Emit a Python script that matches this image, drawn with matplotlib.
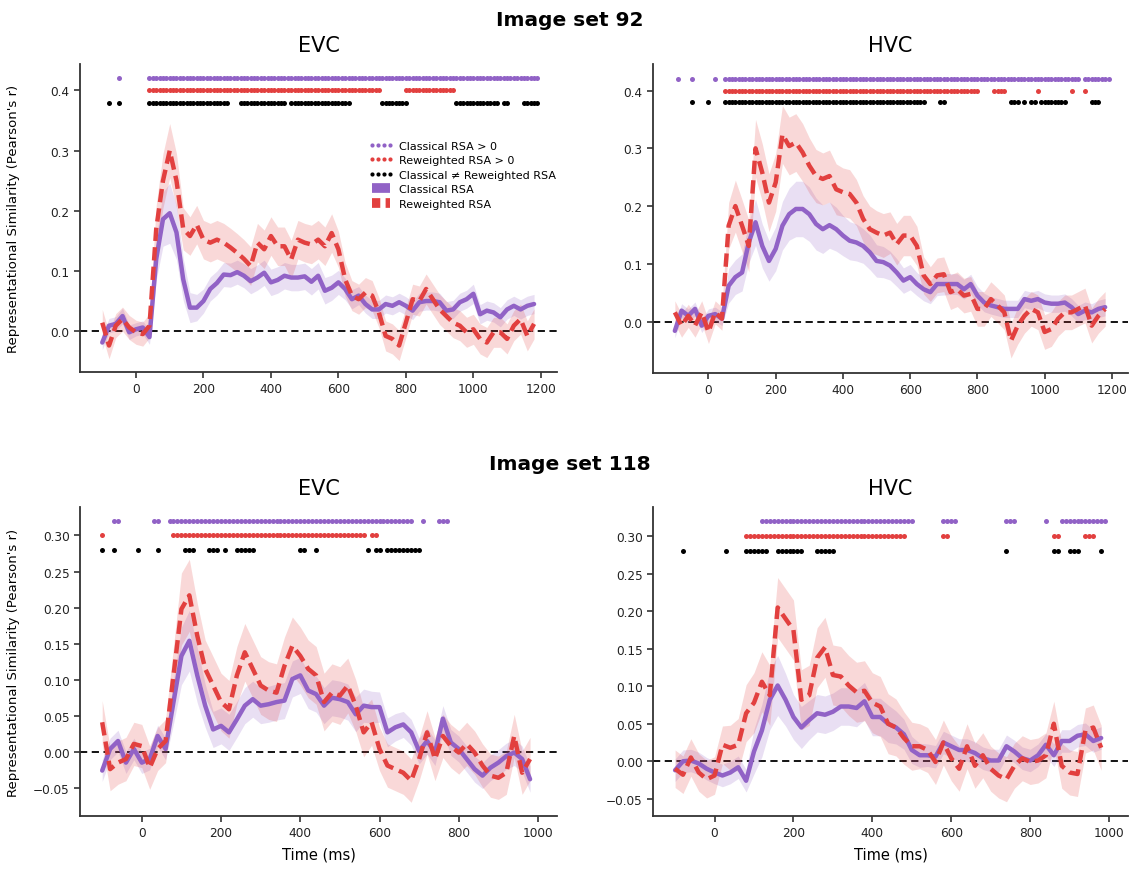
import numpy as np
import matplotlib
matplotlib.use('Agg')
import matplotlib.pyplot as plt
from matplotlib.lines import Line2D

PURPLE = '#9162c6'
RED = '#e2403f'
SPINE = '#333333'

# time grids (ms)
time92 = np.arange(-100, 1200, 20)
time118 = np.arange(-100, 1000, 20)

# ---- Image set 92, EVC
evc92_classical = [
    -0.019, 0.009, 0.012, 0.025, -0.002, 0.003, 0.006, -0.010, 0.120, 0.186,
    0.196, 0.164, 0.086, 0.039, 0.039, 0.050, 0.070, 0.080, 0.094, 0.093,
    0.098, 0.092, 0.083, 0.089, 0.097, 0.081, 0.085, 0.092, 0.089, 0.089,
    0.091, 0.082, 0.092, 0.067, 0.072, 0.081, 0.070, 0.053, 0.059, 0.045,
    0.036, 0.036, 0.045, 0.042, 0.048, 0.042, 0.034, 0.048, 0.050, 0.050,
    0.048, 0.034, 0.036, 0.048, 0.053, 0.062, 0.028, 0.034, 0.031, 0.023,
    0.036, 0.042, 0.036, 0.042, 0.045]
evc92_classical_sem = [
    0.012, 0.012, 0.012, 0.013, 0.012, 0.011, 0.011, 0.012, 0.035, 0.045,
    0.050, 0.045, 0.035, 0.025, 0.022, 0.020, 0.020, 0.020, 0.020, 0.020,
    0.020, 0.020, 0.021, 0.021, 0.021, 0.022, 0.022, 0.022, 0.022, 0.022,
    0.022, 0.022, 0.022, 0.022, 0.021, 0.020, 0.018, 0.016, 0.015, 0.015,
    0.015, 0.015, 0.015, 0.015, 0.015, 0.015, 0.015, 0.015, 0.015, 0.015,
    0.015, 0.015, 0.015, 0.015, 0.015, 0.016, 0.016, 0.016, 0.016, 0.016,
    0.016, 0.016, 0.016, 0.016, 0.016]
evc92_reweighted = [
    0.014, -0.024, 0.009, 0.020, 0.006, -0.002, -0.005, 0.009, 0.170, 0.250,
    0.300, 0.250, 0.170, 0.158, 0.177, 0.152, 0.147, 0.152, 0.147, 0.139,
    0.130, 0.120, 0.108, 0.147, 0.136, 0.158, 0.141, 0.141, 0.119, 0.152,
    0.147, 0.144, 0.152, 0.141, 0.163, 0.136, 0.086, 0.059, 0.053, 0.064,
    0.059, 0.031, -0.008, -0.013, -0.024, 0.014, 0.053, 0.050, 0.070, 0.053,
    0.036, 0.025, 0.014, 0.009, -0.002, 0.003, -0.013, -0.019, -0.002, -0.002,
    -0.013, 0.009, 0.020, -0.008, 0.012]
evc92_reweighted_sem = [
    0.022, 0.022, 0.020, 0.020, 0.020, 0.020, 0.020, 0.020, 0.040, 0.045,
    0.045, 0.045, 0.035, 0.032, 0.032, 0.032, 0.032, 0.032, 0.032, 0.032,
    0.032, 0.032, 0.032, 0.032, 0.032, 0.032, 0.032, 0.032, 0.032, 0.032,
    0.032, 0.032, 0.032, 0.032, 0.032, 0.030, 0.028, 0.025, 0.025, 0.025,
    0.025, 0.025, 0.025, 0.025, 0.025, 0.025, 0.025, 0.025, 0.025, 0.025,
    0.025, 0.025, 0.025, 0.025, 0.025, 0.025, 0.025, 0.025, 0.025, 0.025,
    0.025, 0.025, 0.025, 0.025, 0.025]
evc92_sig_classical = [(-50, -50), (40, 1190)]
evc92_sig_reweighted = [(40, 720), (800, 940)]
evc92_sig_diff = [(-80, -80), (-50, -50), (40, 270), (310, 440), (460, 630),
                  (730, 800), (950, 1060), (1070, 1070), (1090, 1100), (1150, 1190)]

# ---- Image set 92, HVC
hvc92_classical = [
    -0.016, 0.019, 0.010, 0.022, -0.007, 0.010, 0.013, 0.005, 0.062, 0.077,
    0.085, 0.137, 0.172, 0.131, 0.105, 0.126, 0.166, 0.186, 0.195, 0.195,
    0.186, 0.169, 0.160, 0.167, 0.160, 0.149, 0.140, 0.137, 0.131, 0.120,
    0.105, 0.103, 0.097, 0.085, 0.071, 0.077, 0.065, 0.056, 0.051, 0.065,
    0.065, 0.065, 0.065, 0.056, 0.065, 0.045, 0.033, 0.028, 0.025, 0.022,
    0.022, 0.022, 0.039, 0.036, 0.039, 0.033, 0.031, 0.031, 0.033, 0.025,
    0.013, 0.019, 0.016, 0.022, 0.025]
hvc92_classical_sem = [
    0.012, 0.012, 0.012, 0.012, 0.012, 0.012, 0.012, 0.012, 0.030, 0.030,
    0.032, 0.035, 0.040, 0.038, 0.035, 0.038, 0.042, 0.045, 0.048, 0.048,
    0.047, 0.045, 0.042, 0.040, 0.038, 0.035, 0.033, 0.032, 0.030, 0.030,
    0.028, 0.027, 0.025, 0.024, 0.022, 0.022, 0.020, 0.020, 0.020, 0.020,
    0.019, 0.018, 0.018, 0.017, 0.017, 0.016, 0.016, 0.015, 0.015, 0.015,
    0.015, 0.015, 0.015, 0.015, 0.015, 0.015, 0.015, 0.015, 0.015, 0.015,
    0.015, 0.015, 0.015, 0.015, 0.015]
hvc92_reweighted = [
    0.016, -0.007, 0.010, -0.007, 0.016, -0.018, 0.016, 0.005, 0.166, 0.200,
    0.166, 0.131, 0.300, 0.258, 0.206, 0.241, 0.324, 0.304, 0.310, 0.293,
    0.270, 0.252, 0.247, 0.252, 0.229, 0.224, 0.221, 0.206, 0.178, 0.160,
    0.154, 0.149, 0.154, 0.134, 0.149, 0.149, 0.131, 0.080, 0.065, 0.080,
    0.082, 0.051, 0.056, 0.045, 0.048, 0.022, 0.022, 0.039, 0.028, 0.016,
    -0.033, -0.007, 0.010, 0.022, 0.016, -0.018, -0.013, 0.005, 0.016, 0.016,
    0.022, 0.028, -0.007, 0.010, 0.022]
hvc92_reweighted_sem = [
    0.020, 0.020, 0.020, 0.020, 0.020, 0.020, 0.020, 0.020, 0.040, 0.045,
    0.045, 0.045, 0.050, 0.050, 0.050, 0.050, 0.050, 0.050, 0.050, 0.050,
    0.048, 0.046, 0.045, 0.045, 0.044, 0.042, 0.042, 0.040, 0.040, 0.040,
    0.038, 0.038, 0.036, 0.036, 0.035, 0.035, 0.034, 0.032, 0.030, 0.030,
    0.030, 0.030, 0.030, 0.030, 0.030, 0.030, 0.030, 0.030, 0.030, 0.030,
    0.030, 0.032, 0.030, 0.030, 0.030, 0.030, 0.030, 0.030, 0.030, 0.030,
    0.030, 0.030, 0.030, 0.030, 0.030]
hvc92_sig_classical = [(-90, -90), (-50, -50), (20, 20), (50, 1100), (1120, 1190)]
hvc92_sig_reweighted = [(50, 800), (850, 880), (980, 980), (1080, 1080), (1120, 1120)]
hvc92_sig_diff = [(-50, -50), (0, 0), (50, 110), (120, 640), (690, 700),
                  (900, 920), (940, 940), (960, 970), (990, 1060), (1140, 1160)]

# ---- Image set 118, EVC
evc118_classical = [
    -0.026, 0.004, 0.015, -0.015, 0.004, -0.015, -0.010, 0.022, 0.004, 0.069,
    0.133, 0.154, 0.106, 0.064, 0.031, 0.036, 0.027, 0.045, 0.064, 0.073,
    0.064, 0.066, 0.069, 0.071, 0.101, 0.106, 0.085, 0.080, 0.064, 0.075,
    0.073, 0.069, 0.052, 0.064, 0.062, 0.062, 0.027, 0.034, 0.038, 0.027,
    0.001, 0.015, -0.001, 0.046, 0.013, 0.004, -0.010, -0.024, -0.033, -0.022,
    -0.015, -0.006, -0.001, -0.010, -0.038]
evc118_classical_sem = [
    0.015, 0.015, 0.015, 0.015, 0.015, 0.015, 0.015, 0.015, 0.015, 0.030,
    0.040, 0.042, 0.038, 0.030, 0.025, 0.025, 0.025, 0.025, 0.025, 0.025,
    0.025, 0.025, 0.025, 0.025, 0.025, 0.025, 0.025, 0.025, 0.025, 0.025,
    0.025, 0.025, 0.024, 0.023, 0.022, 0.021, 0.020, 0.019, 0.018, 0.018,
    0.018, 0.018, 0.018, 0.018, 0.018, 0.018, 0.018, 0.018, 0.018, 0.018,
    0.018, 0.018, 0.018, 0.018, 0.018]
evc118_reweighted = [
    0.041, -0.024, -0.015, -0.010, 0.011, 0.008, -0.022, 0.004, 0.015, 0.106,
    0.198, 0.217, 0.161, 0.115, 0.092, 0.069, 0.059, 0.106, 0.138, 0.115,
    0.092, 0.085, 0.082, 0.119, 0.147, 0.133, 0.115, 0.106, 0.069, 0.082,
    0.078, 0.092, 0.064, 0.027, 0.041, 0.004, -0.019, -0.024, -0.029, -0.040,
    -0.010, 0.027, -0.010, 0.022, 0.008, -0.001, 0.011, -0.001, -0.019, -0.033,
    -0.036, -0.029, 0.022, -0.029, -0.010]
evc118_reweighted_sem = [
    0.030, 0.030, 0.030, 0.030, 0.030, 0.030, 0.030, 0.030, 0.030, 0.040,
    0.050, 0.050, 0.045, 0.040, 0.040, 0.040, 0.040, 0.040, 0.040, 0.040,
    0.040, 0.040, 0.040, 0.040, 0.040, 0.040, 0.040, 0.040, 0.040, 0.040,
    0.040, 0.038, 0.036, 0.034, 0.032, 0.030, 0.030, 0.030, 0.030, 0.030,
    0.030, 0.030, 0.030, 0.030, 0.030, 0.030, 0.030, 0.030, 0.030, 0.030,
    0.030, 0.030, 0.030, 0.030, 0.030]
evc118_sig_classical = [(-70, -60), (30, 40), (70, 680), (710, 710), (750, 770)]
evc118_sig_reweighted = [(-100, -100), (80, 560), (580, 590)]
evc118_sig_diff = [(-100, -100), (-70, -70), (-10, -10), (40, 40), (110, 130),
                   (170, 190), (210, 210), (240, 280), (400, 410), (440, 440),
                   (570, 570), (590, 600), (620, 700)]

# ---- Image set 118, HVC
hvc118_classical = [
    -0.012, 0.000, 0.001, -0.003, -0.010, -0.015, -0.019, -0.015, -0.008, -0.026,
    0.013, 0.041, 0.082, 0.101, 0.082, 0.059, 0.045, 0.055, 0.064, 0.062,
    0.066, 0.073, 0.073, 0.071, 0.080, 0.059, 0.059, 0.050, 0.045, 0.036,
    0.015, 0.008, 0.008, 0.006, 0.025, 0.020, 0.015, 0.015, 0.011, 0.004,
    0.001, 0.001, 0.020, 0.013, 0.004, 0.001, 0.008, 0.022, 0.008, 0.027,
    0.027, 0.034, 0.036, 0.027, 0.031]
hvc118_classical_sem = [
    0.015, 0.015, 0.015, 0.015, 0.015, 0.015, 0.015, 0.015, 0.015, 0.015,
    0.030, 0.035, 0.040, 0.040, 0.035, 0.030, 0.028, 0.026, 0.025, 0.025,
    0.025, 0.025, 0.025, 0.025, 0.025, 0.025, 0.025, 0.025, 0.022, 0.020,
    0.018, 0.016, 0.015, 0.015, 0.015, 0.015, 0.015, 0.015, 0.015, 0.015,
    0.015, 0.015, 0.015, 0.015, 0.015, 0.015, 0.015, 0.015, 0.015, 0.015,
    0.015, 0.015, 0.015, 0.015, 0.015]
hvc118_reweighted = [
    -0.010, -0.018, 0.005, -0.015, -0.024, -0.019, 0.022, 0.018, 0.022, 0.064,
    0.078, 0.106, 0.088, 0.205, 0.190, 0.175, 0.082, 0.088, 0.138, 0.152,
    0.115, 0.113, 0.101, 0.092, 0.094, 0.078, 0.073, 0.050, 0.045, 0.031,
    0.020, 0.020, 0.015, -0.001, 0.025, 0.004, -0.010, 0.020, -0.006, 0.008,
    -0.010, -0.019, -0.024, -0.006, 0.004, -0.001, 0.001, 0.008, 0.050, -0.006,
    -0.015, -0.017, 0.041, 0.045, 0.018]
hvc118_reweighted_sem = [
    0.025, 0.025, 0.025, 0.025, 0.025, 0.025, 0.025, 0.030, 0.035, 0.038,
    0.040, 0.040, 0.040, 0.040, 0.040, 0.040, 0.040, 0.040, 0.040, 0.040,
    0.040, 0.040, 0.040, 0.040, 0.040, 0.040, 0.040, 0.040, 0.038, 0.035,
    0.032, 0.030, 0.030, 0.030, 0.030, 0.030, 0.030, 0.030, 0.030, 0.030,
    0.030, 0.030, 0.030, 0.030, 0.030, 0.030, 0.030, 0.030, 0.030, 0.030,
    0.030, 0.030, 0.030, 0.030, 0.030]
hvc118_sig_classical = [(120, 500), (580, 610), (740, 760), (840, 840), (880, 990)]
hvc118_sig_reweighted = [(80, 480), (580, 590), (860, 870), (940, 960)]
hvc118_sig_diff = [(-80, -80), (30, 30), (80, 130), (160, 220), (260, 300),
                   (740, 740), (860, 870), (900, 920), (980, 980)]

plt.rcParams['font.family'] = ['DejaVu Sans']

def sig_times(ranges, step = 10):
    return np.concatenate([np.arange(a, b + 1, step) for a, b in ranges])

def draw_panel(ax, time, classical, classical_sem, reweighted, reweighted_sem,
               sigs, rows, xlim, ylim, xticks, yticks, yfmt):
    for arr in (classical, classical_sem, reweighted, reweighted_sem):
        assert len(arr) == len(time), (len(arr), len(time))
    c, cs = np.array(classical), np.array(classical_sem)
    r, rs = np.array(reweighted), np.array(reweighted_sem)

    ax.axhline(0, color = 'black', lw = 1.3, ls = (0, (4, 2.5)), zorder = 1)
    ax.fill_between(time, c - cs, c + cs, color = PURPLE, alpha = 0.2, lw = 0, zorder = 2)
    ax.fill_between(time, r - rs, r + rs, color = RED, alpha = 0.2, lw = 0, zorder = 2)
    ax.plot(time, c, color = PURPLE, lw = 3.2, solid_capstyle = 'round', zorder = 3)
    ax.plot(time, r, color = RED, lw = 3.2, dashes = (3, 1.4), zorder = 4)

    for ranges, yrow, col in zip(sigs, rows, (PURPLE, RED, 'black')):
        ts = sig_times(ranges)
        ax.plot(ts, np.full(len(ts), yrow), ls = 'none', marker = 'o', ms = 3.6,
                mew = 0, color = col, zorder = 5)

    ax.set_xlim(*xlim)
    ax.set_ylim(*ylim)
    ax.set_xticks(xticks)
    ax.set_yticks(yticks)
    ax.set_yticklabels([yfmt.format(v).replace('-', '\u2212') for v in yticks])
    for side in ('top', 'right'):
        ax.spines[side].set_visible(False)
    for side in ('left', 'bottom'):
        ax.spines[side].set_linewidth(1.3)
        ax.spines[side].set_color(SPINE)
    ax.tick_params(direction = 'out', length = 4, width = 1.2, color = SPINE,
                   labelsize = 8.7, labelcolor = '#222222')

fig = plt.figure(figsize = (11.29, 8.70), dpi = 100)
W, H = 1129., 870.

def add_ax(x0, y0, x1, y1):
    return fig.add_axes([x0 / W, 1 - y1 / H, (x1 - x0) / W, (y1 - y0) / H])

ax_tl = add_ax(80, 65, 557, 373)
ax_tr = add_ax(653, 65, 1128, 374)
ax_bl = add_ax(80, 508, 557, 817)
ax_br = add_ax(653, 508, 1128, 817)

top_yticks = [0.0, 0.1, 0.2, 0.3, 0.4]
bot_yticks = [-0.05, 0.0, 0.05, 0.10, 0.15, 0.20, 0.25, 0.30]

draw_panel(ax_tl, time92, evc92_classical, evc92_classical_sem,
           evc92_reweighted, evc92_reweighted_sem,
           (evc92_sig_classical, evc92_sig_reweighted, evc92_sig_diff),
           (0.42, 0.40, 0.38), (-166, 1248), (-0.068, 0.444),
           range(0, 1201, 200), top_yticks, '{:.1f}')
draw_panel(ax_tr, time92, hvc92_classical, hvc92_classical_sem,
           hvc92_reweighted, hvc92_reweighted_sem,
           (hvc92_sig_classical, hvc92_sig_reweighted, hvc92_sig_diff),
           (0.42, 0.40, 0.38), (-165, 1248), (-0.089, 0.446),
           range(0, 1201, 200), top_yticks, '{:.1f}')
draw_panel(ax_bl, time118, evc118_classical, evc118_classical_sem,
           evc118_reweighted, evc118_reweighted_sem,
           (evc118_sig_classical, evc118_sig_reweighted, evc118_sig_diff),
           (0.32, 0.30, 0.28), (-156, 1048), (-0.089, 0.3395),
           range(0, 1001, 200), bot_yticks, '{:.2f}')
draw_panel(ax_br, time118, hvc118_classical, hvc118_classical_sem,
           hvc118_reweighted, hvc118_reweighted_sem,
           (hvc118_sig_classical, hvc118_sig_reweighted, hvc118_sig_diff),
           (0.32, 0.30, 0.28), (-156, 1048), (-0.073, 0.339),
           range(0, 1001, 200), bot_yticks, '{:.2f}')

for ax, name in ((ax_tl, 'EVC'), (ax_tr, 'HVC'), (ax_bl, 'EVC'), (ax_br, 'HVC')):
    ax.set_title(name, fontsize = 15, pad = 9)

ylab = "Representational Similarity (Pearson's r)"
for ax in (ax_tl, ax_bl):
    ax.set_ylabel(ylab, fontsize = 9.5)
    ax.yaxis.set_label_coords(-0.125, 0.5)
for ax in (ax_bl, ax_br):
    ax.set_xlabel('Time (ms)', fontsize = 10.5, labelpad = 5)

fig.text(570 / W, 1 - 20 / H, 'Image set 92', ha = 'center', va = 'center',
         fontsize = 14.5, fontweight = 'bold')
fig.text(570 / W, 1 - 465 / H, 'Image set 118', ha = 'center', va = 'center',
         fontsize = 14.5, fontweight = 'bold')

handles = [
    Line2D([], [], ls = 'none', marker = 'o', ms = 3, mew = 0, color = PURPLE),
    Line2D([], [], ls = 'none', marker = 'o', ms = 3, mew = 0, color = RED),
    Line2D([], [], ls = 'none', marker = 'o', ms = 3, mew = 0, color = 'black'),
    Line2D([], [], color = PURPLE, lw = 7, solid_capstyle = 'butt'),
    Line2D([], [], color = RED, lw = 7, dashes = (0.85, 0.55), dash_capstyle = 'butt'),
    ]
labels = ['Classical RSA > 0', 'Reweighted RSA > 0', 'Classical \u2260 Reweighted RSA',
          'Classical RSA', 'Reweighted RSA']
ax_tl.legend(handles, labels, loc = 'upper left', bbox_to_anchor = (0.595, 0.765),
             frameon = False, fontsize = 8, numpoints = 4, handlelength = 2.3,
             handletextpad = 0.5, labelspacing = 0.4, borderaxespad = 0)

fig.savefig('out.png', dpi = 100)
